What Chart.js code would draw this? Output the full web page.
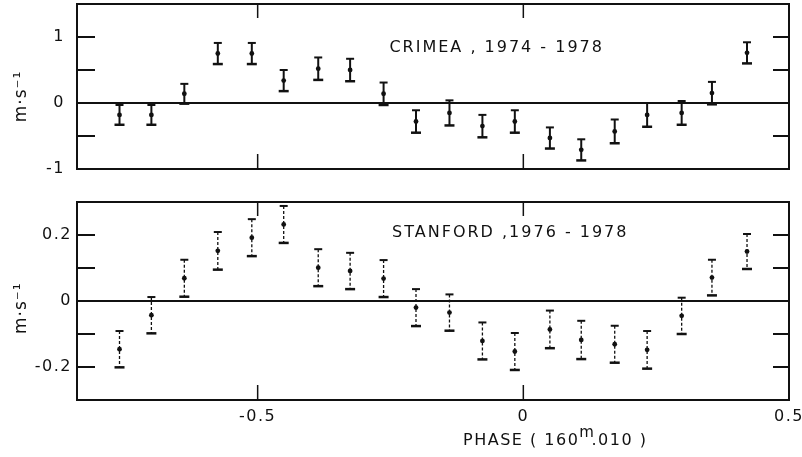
<!DOCTYPE html>
<html>
<head>
<meta charset="utf-8">
<script src="https://cdn.jsdelivr.net/npm/chart.js@4"></script>
<style>
  body { margin: 0; background: #fff; }
  #wrap { position: relative; width: 802px; height: 457px; }
  canvas { position: absolute; left: 0; }
</style>
</head>
<body>
<div id="wrap">
  <canvas id="crimea" width="802" height="185" style="top:0"></canvas>
  <canvas id="stanford" width="802" height="272" style="top:185px"></canvas>
</div>
<script>
// phase of each bin (same for both panels)
const phase = [-0.760, -0.700, -0.638, -0.575, -0.511, -0.451, -0.386, -0.326, -0.263, -0.202,
               -0.139, -0.077, -0.016, 0.050, 0.109, 0.172, 0.233, 0.298, 0.355, 0.421];

// Crimea 1974-1978, m/s
const crimeaVal = [-0.18, -0.18, 0.14, 0.75, 0.75, 0.34, 0.52, 0.50, 0.14, -0.28,
                   -0.15, -0.35, -0.28, -0.53, -0.71, -0.43, -0.18, -0.15, 0.15, 0.76];
const crimeaErr = [0.15, 0.15, 0.15, 0.16, 0.16, 0.16, 0.17, 0.17, 0.17, 0.17,
                   0.19, 0.17, 0.17, 0.16, 0.16, 0.18, 0.18, 0.18, 0.17, 0.16];

// Stanford 1976-1978, m/s
const stanfordVal = [-0.146, -0.043, 0.069, 0.152, 0.192, 0.232, 0.101, 0.091, 0.068, -0.020,
                     -0.035, -0.121, -0.153, -0.086, -0.118, -0.131, -0.148, -0.045, 0.071, 0.150];
const stanfordErr = [0.055, 0.055, 0.056, 0.057, 0.056, 0.056, 0.056, 0.055, 0.056, 0.056,
                     0.055, 0.056, 0.056, 0.057, 0.058, 0.056, 0.057, 0.055, 0.054, 0.053];

// ticks
const xTicks = [-0.5, 0, 0.5];
const xTickLabels = ['-0.5', '0', '0.5'];
const crimeaTicks = [-1, 0, 1];
const crimeaTickLabels = ['-1', '0', '1'];
const stanfordTicks = [-0.2, 0, 0.2];
const stanfordTickLabels = ['-0.2', '0', '0.2'];

const INK = '#111';
const FONT = { family: 'DejaVu Sans', size: 16 };

function line(ctx, x1, y1, x2, y2) {
    ctx.beginPath();
    ctx.moveTo(x1, y1);
    ctx.lineTo(x2, y2);
    ctx.stroke();
}

// wide lettering like the original
const spacing = {
    id: 'spacing',
    beforeDraw(chart) { chart.ctx.letterSpacing = '1.5px'; }
};

// vertical error bars with caps
const errorBars = {
    id: 'errorBars',
    beforeDatasetsDraw(chart, args, opts) {
        const { ctx, scales: { x, y } } = chart;
        const pts = chart.data.datasets[0].data;
        ctx.save();
        ctx.strokeStyle = INK;
        pts.forEach((p, i) => {
            const px = x.getPixelForValue(p.x);
            const top = y.getPixelForValue(p.y + opts.err[i]);
            const bot = y.getPixelForValue(p.y - opts.err[i]);
            ctx.lineWidth = opts.width;
            ctx.setLineDash(opts.dash);
            line(ctx, px, top, px, bot);
            ctx.setLineDash([]);
            ctx.lineWidth = 2;
            line(ctx, px - 4, top, px + 4, top);
            ctx.lineWidth = 2.5;
            line(ctx, px - 5, bot, px + 5, bot);
        });
        ctx.restore();
    }
};

// box, zero line, inward ticks, labels and titles
const frame = {
    id: 'frame',
    afterDraw(chart, args, opts) {
        const { ctx, chartArea: a, scales: { x, y } } = chart;
        ctx.save();
        ctx.strokeStyle = INK;
        ctx.lineWidth = 2;
        ctx.strokeRect(a.left, a.top, a.right - a.left, a.bottom - a.top);
        line(ctx, a.left, y.getPixelForValue(0), a.right, y.getPixelForValue(0));

        opts.yMinor.forEach(v => {
            const py = y.getPixelForValue(v);
            line(ctx, a.left, py, a.left + 18, py);
            line(ctx, a.right - 16, py, a.right, py);
        });
        ctx.lineWidth = 1.5;
        [-0.5, 0].forEach(v => {
            const px = x.getPixelForValue(v);
            line(ctx, px, a.top, px, a.top + 14);
            line(ctx, px, a.bottom - 15, px, a.bottom);
        });

        ctx.fillStyle = INK;
        ctx.letterSpacing = '2px';
        ctx.font = '16px "DejaVu Sans"';
        ctx.textBaseline = 'middle';
        ctx.textAlign = 'left';
        ctx.fillText(opts.label, x.getPixelForValue(opts.labelAt[0]), y.getPixelForValue(opts.labelAt[1]));

        // unit label, rotated
        ctx.save();
        ctx.translate(22, y.getPixelForValue(opts.unitAt));
        ctx.rotate(-Math.PI / 2);
        ctx.letterSpacing = '1px';
        ctx.textAlign = 'center';
        ctx.font = '17px "DejaVu Sans"';
        ctx.fillText('m·s⁻¹', 0, 0);
        ctx.restore();

        if (opts.phaseTitle) {
            ctx.letterSpacing = '1.5px';
            const parts = ['PHASE ( 160', 'm', '.010 )'];
            const ty = a.bottom + 41;
            ctx.font = '16px "DejaVu Sans"';
            const w0 = ctx.measureText(parts[0]).width;
            const w2 = ctx.measureText(parts[2]).width;
            ctx.font = '15px "DejaVu Sans"';
            const w1 = ctx.measureText(parts[1]).width - 4;
            let tx = x.getPixelForValue(0.06) - (w0 + w1 + w2) / 2;
            ctx.font = '16px "DejaVu Sans"';
            ctx.fillText(parts[0], tx, ty);
            ctx.font = '15px "DejaVu Sans"';
            ctx.fillText(parts[1], tx + w0, ty - 8);
            ctx.font = '16px "DejaVu Sans"';
            ctx.fillText(parts[2], tx + w0 + w1, ty);
        }
        ctx.restore();
    }
};

function makeChart(id, vals, errs, yMin, yMax, ticks, tickLabels, tickPad, showX, padding, frameOpts, barWidth, barDash) {
    return new Chart(document.getElementById(id), {
        type: 'scatter',
        data: {
            datasets: [{
                data: phase.map((p, i) => ({ x: p, y: vals[i] })),
                pointRadius: 2.4,
                pointBackgroundColor: INK,
                pointBorderWidth: 0,
                showLine: false
            }]
        },
        options: {
            responsive: false,
            animation: false,
            events: [],
            layout: { padding: padding },
            plugins: {
                legend: { display: false },
                tooltip: { enabled: false },
                errorBars: { err: errs, width: barWidth, dash: barDash },
                frame: frameOpts
            },
            scales: {
                x: {
                    type: 'linear',
                    min: -0.84,
                    max: 0.5,
                    display: showX,
                    afterBuildTicks(s) { s.ticks = xTicks.map(v => ({ value: v })); },
                    afterFit(s) {
                        s.height = showX ? 57 : 0;
                        s.paddingLeft = 0;
                        s.paddingRight = 0;
                    },
                    grid: { display: false, drawTicks: false },
                    border: { display: false },
                    ticks: {
                        padding: 7,
                        color: INK,
                        font: FONT,
                        maxRotation: 0,
                        callback: (v, i) => xTickLabels[i]
                    }
                },
                y: {
                    min: yMin,
                    max: yMax,
                    afterBuildTicks(s) { s.ticks = ticks.map(v => ({ value: v })); },
                    afterFit(s) {
                        s.width = 77;
                        s.paddingTop = 0;
                        s.paddingBottom = 0;
                    },
                    grid: { display: false, drawTicks: false },
                    border: { display: false },
                    ticks: {
                        padding: tickPad,
                        color: INK,
                        font: FONT,
                        callback: (v, i) => tickLabels[i]
                    }
                }
            }
        },
        plugins: [spacing, errorBars, frame]
    });
}

makeChart('crimea', crimeaVal, crimeaErr, -1, 1.5, crimeaTicks, crimeaTickLabels, 12, false,
    { top: 4, bottom: 16, left: 0, right: 13 },
    { yMinor: [-0.5, 0.5, 1], label: 'CRIMEA , 1974 - 1978', labelAt: [-0.252, 0.84], unitAt: 0.1 },
    2, []);

makeChart('stanford', stanfordVal, stanfordErr, -0.3, 0.3, stanfordTicks, stanfordTickLabels, 5, true,
    { top: 17, bottom: 0, left: 0, right: 13 },
    { yMinor: [-0.2, -0.1, 0.1, 0.2], label: 'STANFORD ,1976 - 1978', labelAt: [-0.247, 0.208], unitAt: -0.022, phaseTitle: true },
    1.3, [3, 2]);
</script>
</body>
</html>
